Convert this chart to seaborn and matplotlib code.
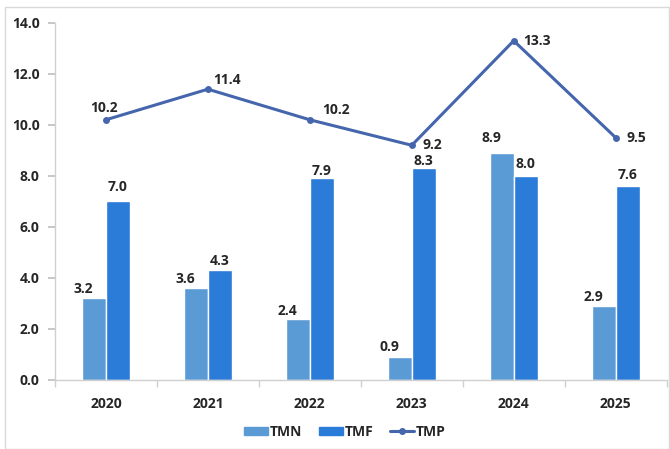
import numpy as np
import pandas as pd
import seaborn as sns
import matplotlib.pyplot as plt
from matplotlib.patches import Rectangle
from matplotlib.lines import Line2D

years = ["2020", "2021", "2022", "2023", "2024", "2025"]
tmn = [3.2, 3.6, 2.4, 0.9, 8.9, 2.9]
tmf = [7.0, 4.3, 7.9, 8.3, 8.0, 7.6]
tmp = [10.2, 11.4, 10.2, 9.2, 13.3, 9.5]

C_TMN = "#5b9bd5"
C_TMF = "#2b7bd8"
C_TMP = "#4566ad"

sns.set_theme(style="white")
plt.rcParams['font.family'] = ['Open Sans', 'DejaVu Sans']
plt.rcParams['font.weight'] = 'bold'
FS = 10

df = pd.DataFrame({
    "year": years * 2,
    "value": tmn + tmf,
    "series": ["TMN"] * len(years) + ["TMF"] * len(years),
})

fig = plt.figure(figsize=(6.7, 4.49), dpi=100)
ax = fig.add_axes([0.082, 0.154, 0.913, 0.795])

sns.barplot(data=df, x="year", y="value", hue="series",
            palette={"TMN": C_TMN, "TMF": C_TMF}, saturation=1,
            width=0.47, ax=ax, legend=False)

xpos = np.arange(len(years))
sns.lineplot(x=xpos, y=tmp, color=C_TMP, linewidth=2.2, marker="o",
             markersize=5, markeredgewidth=0, ax=ax)

# bar labels
off = 0.47 / 4
tmn_dy = [0.35, 0.35, 0.3, 0.4, 0.6, 0.35]
for i, v in enumerate(tmn):
    ax.text(i - off - 0.1, v + tmn_dy[i], f"{v:.1f}", ha="center", va="center",
            fontsize=FS, fontweight="bold")
tmf_dy = [0.55, 0.35, 0.3, 0.3, 0.45, 0.45]
for i, v in enumerate(tmf):
    ax.text(i + off, v + tmf_dy[i], f"{v:.1f}", ha="center", va="center",
            fontsize=FS, fontweight="bold")

# line labels (position tweaks per point)
tmp_off = [(-0.02, 0.45), (0.05, 0.35), (0.12, 0.4), (0.11, 0.0),
           (0.09, 0.0), (0.11, 0.0)]
tmp_ha = ["center", "left", "left", "left", "left", "left"]
for i, v in enumerate(tmp):
    dx, dy = tmp_off[i]
    ax.text(i + dx, v + dy, f"{v:.1f}", ha=tmp_ha[i], va="center",
            fontsize=FS, fontweight="bold")

ax.set_ylim(0, 14)
ax.set_xlim(-0.5, len(years) - 0.5)
ax.set_yticks(np.arange(0, 14.1, 2))
ax.set_yticklabels([f"{t:.1f}" for t in np.arange(0, 14.1, 2)],
                   fontsize=FS, fontweight="bold")
ax.set_xticks(xpos)
ax.set_xticklabels(years, fontsize=FS, fontweight="bold")
ax.set_xlabel("")
ax.set_ylabel("")

for s in ["top", "right"]:
    ax.spines[s].set_visible(False)
for s in ["left", "bottom"]:
    ax.spines[s].set_color("#d0d0d0")
    ax.spines[s].set_linewidth(1)

ax.tick_params(axis="y", length=5, color="#c0c0c0", pad=6, left=True)
ax.tick_params(axis="x", length=0, pad=12)
ax.set_xticks(np.arange(-0.5, len(years), 1), minor=True)
ax.tick_params(axis="x", which="minor", length=5, color="#d0d0d0", bottom=True)

handles = [
    Rectangle((0, 0), 1, 1, color=C_TMN),
    Rectangle((0, 0), 1, 1, color=C_TMF),
    Line2D([0], [0], color=C_TMP, linewidth=2.2, marker="o", markersize=4),
]
fig.legend(handles, ["TMN", "TMF", "TMP"], loc="center", ncol=3,
           bbox_to_anchor=(0.515, 0.038), frameon=False, fontsize=FS,
           handlelength=1.7, handleheight=0.6, columnspacing=1.2,
           handletextpad=0.15)

# light outer border
fig.patches.append(Rectangle((0.008, 0.0), 0.99, 0.985, transform=fig.transFigure,
                             fill=False, edgecolor="#d9d9d9", linewidth=1))

fig.savefig("out.png", dpi=100)
